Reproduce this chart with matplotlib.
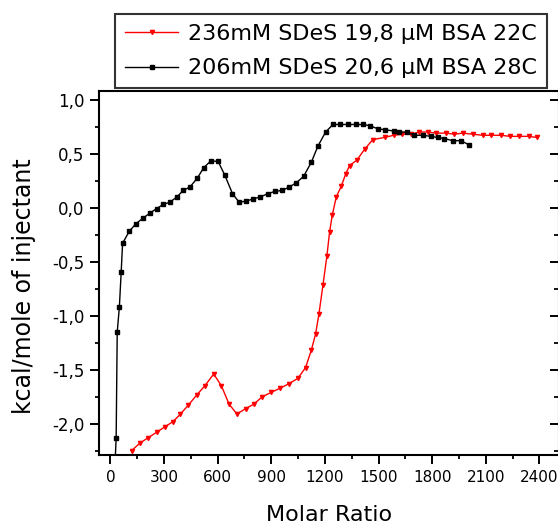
import matplotlib
matplotlib.use("Agg")
import matplotlib.pyplot as plt
from matplotlib.ticker import MultipleLocator, FuncFormatter

# ---- data ----
red_label = "236mM SDeS 19,8 µM BSA 22C"
black_label = "206mM SDeS 20,6 µM BSA 28C"

red_x = [118, 165, 211, 258, 304, 351, 392, 435, 485, 528, 578, 621, 664, 708,
         757, 802, 850, 900, 951, 999, 1049, 1092, 1124, 1148, 1167, 1189, 1211,
         1226, 1241, 1264, 1292, 1316, 1338, 1379, 1422, 1468, 1534, 1584, 1632,
         1683, 1729, 1775, 1822, 1878, 1925, 1971, 2027, 2083, 2130, 2185, 2236,
         2288, 2340, 2385]
red_y = [-2.25, -2.18, -2.13, -2.08, -2.03, -1.98, -1.91, -1.83, -1.73, -1.65,
         -1.54, -1.65, -1.82, -1.91, -1.86, -1.82, -1.75, -1.71, -1.67, -1.63,
         -1.58, -1.48, -1.32, -1.17, -0.98, -0.72, -0.45, -0.23, -0.07, 0.10,
         0.20, 0.31, 0.39, 0.44, 0.54, 0.63, 0.65, 0.67, 0.68, 0.68, 0.70, 0.70,
         0.69, 0.69, 0.68, 0.69, 0.68, 0.67, 0.67, 0.67, 0.66, 0.66, 0.66, 0.65]

black_x = [25, 32, 38, 50, 60, 68, 105, 142, 180, 221, 258, 295, 332, 373, 407,
           444, 485, 522, 560, 602, 640, 683, 720, 757, 798, 839, 882, 919, 962,
           999, 1040, 1081, 1124, 1161, 1204, 1245, 1286, 1329, 1375, 1412, 1450,
           1496, 1539, 1584, 1617, 1658, 1701, 1747, 1794, 1831, 1869, 1915, 1962,
           2008]
black_y = [-2.40, -2.13, -1.15, -0.92, -0.60, -0.33, -0.22, -0.15, -0.10, -0.05,
           -0.01, 0.03, 0.05, 0.10, 0.16, 0.19, 0.27, 0.37, 0.43, 0.43, 0.30,
           0.13, 0.05, 0.06, 0.08, 0.10, 0.13, 0.15, 0.16, 0.19, 0.23, 0.29,
           0.42, 0.57, 0.70, 0.77, 0.77, 0.77, 0.77, 0.77, 0.76, 0.73, 0.72,
           0.71, 0.70, 0.70, 0.67, 0.67, 0.66, 0.65, 0.64, 0.62, 0.62, 0.58]

x_ticks = [0, 300, 600, 900, 1200, 1500, 1800, 2100, 2400]
y_ticks = [-2.0, -1.5, -1.0, -0.5, 0.0, 0.5, 1.0]

plt.rcParams['font.family'] = ['DejaVu Sans']

fig = plt.figure(figsize=(5.58, 5.29), dpi=100)
ax = fig.add_axes([99/558, (529-455)/529, 460/558, (455-91)/529])

ax.plot(red_x, red_y, color='red', lw=1.0, marker='v', ms=3,
        label=red_label)
ax.plot(black_x, black_y, color='black', lw=1.0, marker='s', ms=2.8,
        label=black_label)

ylim = (-2.29, 1.08)
ax.set_xlim(-64, 2510)
ax.set_ylim(*ylim)
ax.set_xticks(x_ticks)
ax.set_yticks(y_ticks)
ax.xaxis.set_minor_locator(MultipleLocator(150))
ax.yaxis.set_minor_locator(MultipleLocator(0.25))
ax.yaxis.set_major_formatter(FuncFormatter(lambda v, p: f"{v:.1f}".replace('.', ',')))

for s in ax.spines.values():
    s.set_linewidth(1.5)
ax.tick_params(axis='both', which='major', direction='out', length=6.5, width=1.4,
               pad=4)
ax.tick_params(axis='y', which='major', labelsize=12)
ax.tick_params(axis='x', which='major', labelsize=11)
ax.tick_params(axis='both', which='minor', direction='out', length=3, width=1.3)

# right-side inward ticks
ax2 = ax.twinx()
ax2.set_ylim(*ylim)
ax2.set_yticks(y_ticks)
ax2.yaxis.set_minor_locator(MultipleLocator(0.25))
ax2.tick_params(axis='y', which='major', direction='in', length=6.5, width=1.4,
                labelright=False)
ax2.tick_params(axis='y', which='minor', direction='in', length=3.5, width=1.3)
for s in ax2.spines.values():
    s.set_visible(False)

ax.set_xlabel("Molar Ratio", fontsize=16, labelpad=15)
ax.set_ylabel("kcal/mole of injectant", fontsize=17)
ax.yaxis.set_label_coords(-0.138, 0.465)

leg = ax.legend(loc='upper left', bbox_to_anchor=(115/558, 1 - 14/529),
                bbox_transform=fig.transFigure,
                fontsize=16, frameon=True, fancybox=False, edgecolor='black',
                handlelength=2.4, borderpad=0.45, labelspacing=0.65,
                handletextpad=0.45, borderaxespad=0)
leg.get_frame().set_linewidth(1.5)

fig.savefig("out.png", dpi=100)
